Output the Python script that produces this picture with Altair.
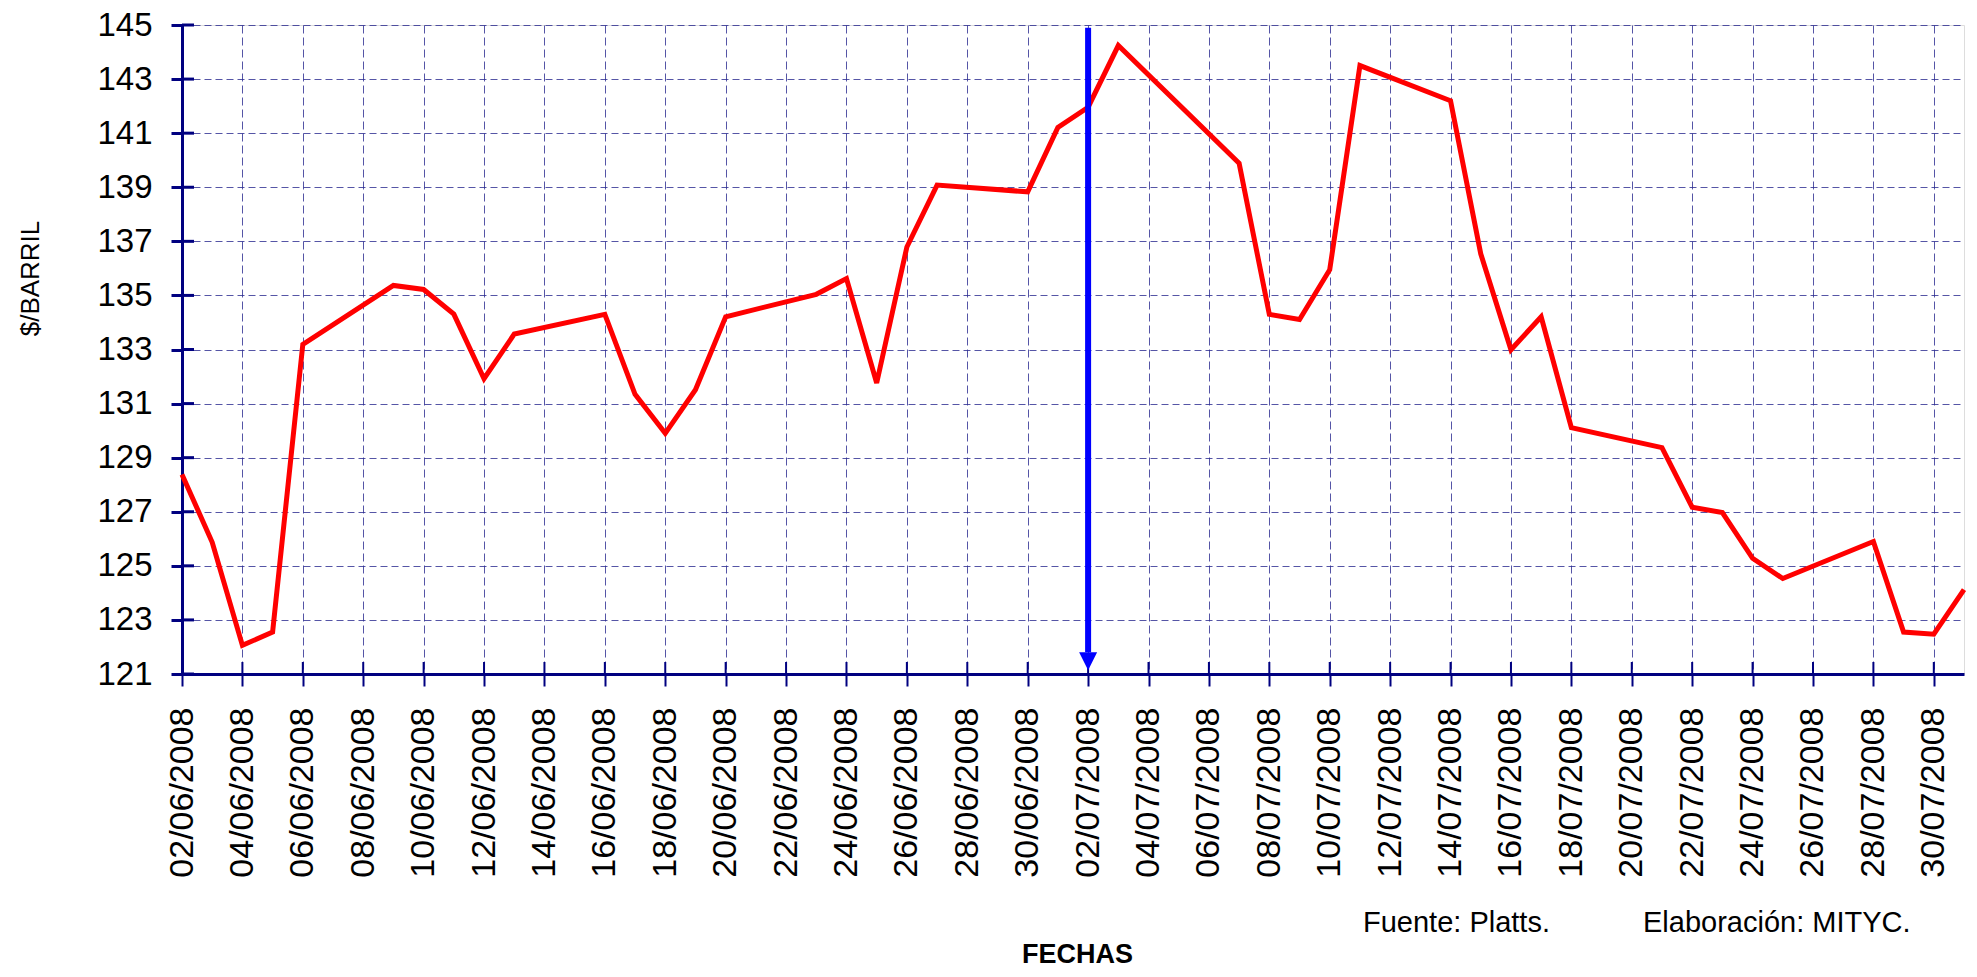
import altair as alt
import pandas as pd

# ---- data ----
dates = [
    "2008-06-02", "2008-06-03", "2008-06-04", "2008-06-05", "2008-06-06",
    "2008-06-09", "2008-06-10", "2008-06-11", "2008-06-12", "2008-06-13",
    "2008-06-16", "2008-06-17", "2008-06-18", "2008-06-19", "2008-06-20",
    "2008-06-23", "2008-06-24", "2008-06-25", "2008-06-26", "2008-06-27",
    "2008-06-30", "2008-07-01", "2008-07-02", "2008-07-03",
    "2008-07-07", "2008-07-08", "2008-07-09", "2008-07-10", "2008-07-11",
    "2008-07-14", "2008-07-15", "2008-07-16", "2008-07-17", "2008-07-18",
    "2008-07-21", "2008-07-22", "2008-07-23", "2008-07-24", "2008-07-25",
    "2008-07-28", "2008-07-29", "2008-07-30", "2008-07-31",
]
prices = [
    128.38, 125.87, 122.06, 122.55, 133.19,
    135.37, 135.22, 134.31, 131.92, 133.57,
    134.30, 131.34, 129.90, 131.51, 134.21,
    135.04, 135.62, 131.76, 136.79, 139.08,
    138.83, 141.21, 141.96, 144.24,
    139.89, 134.30, 134.11, 135.95, 143.50,
    142.20, 136.54, 132.99, 134.21, 130.11,
    129.37, 127.17, 126.97, 125.28, 124.53,
    125.90, 122.55, 122.47, 124.12,
]
y_ticks = list(range(121, 146, 2))
x_tick_dates = [d.strftime("%Y-%m-%d") for d in pd.date_range("2008-06-02", "2008-07-30", freq="2D")]
arrow_date = "2008-07-02"
arrow_top, arrow_bottom, arrow_head = 144.9, 121.8, 121.47

W, H = 1782, 649
NAVY = "#000080"
GRID = "#2a2a90"
FONT = "Liberation Sans"

df = pd.DataFrame({"fecha": [d + "T00:00:00" for d in dates], "precio": prices})
xt = pd.DataFrame({"fecha": [d + "T00:00:00" for d in x_tick_dates]})
yt = pd.DataFrame({"v": y_ticks})
arr = pd.DataFrame({"fecha": [arrow_date + "T00:00:00"], "top": [arrow_top],
                    "bot": [arrow_bottom], "head": [arrow_head]})

x_scale = alt.Scale(domain=[alt.DateTime(year=2008, month=6, date=2),
                            alt.DateTime(year=2008, month=7, date=31)])
y_scale = alt.Scale(domain=[121, 145], nice=False, zero=False)

x_axis = alt.Axis(
    values=[alt.DateTime(year=int(d[:4]), month=int(d[5:7]), date=int(d[8:10])) for d in x_tick_dates],
    format="%d/%m/%Y", labelAngle=270, labelFontSize=34, labelFont=FONT, labelColor="black",
    labelPadding=21, labelOverlap=False, labelFlush=False,
    tickSize=12, tickWidth=2, tickColor=NAVY,
    domainColor=NAVY, domainWidth=3,
    grid=True, gridColor=GRID, gridOpacity=0.8, gridWidth=1, gridDash=[8, 4],
    title="FECHAS", titleFont=FONT, titleFontSize=27, titleFontWeight="bold",
    titleColor="black", titleX=895, titleY=280, titleBaseline="middle",
)
y_axis = alt.Axis(
    values=y_ticks, labelFontSize=33, labelFont=FONT, labelColor="black", labelPadding=19,
    tickSize=11, tickWidth=3, tickColor=NAVY,
    domainColor=NAVY, domainWidth=3,
    grid=True, gridColor=GRID, gridOpacity=0.8, gridWidth=1, gridDash=[7, 4],
    title="$/BARRIL", titleFont=FONT, titleFontSize=26, titleFontWeight="normal",
    titleColor="black", titleX=-152, titleY=253, titleBaseline="middle", titleAlign="center",
)

line = alt.Chart(df).mark_line(color="#FF0000", strokeWidth=5).encode(
    x=alt.X("fecha:T", scale=x_scale, axis=x_axis),
    y=alt.Y("precio:Q", scale=y_scale, axis=y_axis),
)

# inner halves of the crossing tick marks
y_inner = alt.Chart(yt).mark_rule(color=NAVY, strokeWidth=3).encode(
    y=alt.Y("v:Q", scale=y_scale), x=alt.value(0), x2=alt.value(12))
x_inner = alt.Chart(xt).mark_rule(color=NAVY, strokeWidth=2).encode(
    x=alt.X("fecha:T", scale=x_scale), y=alt.value(H - 12), y2=alt.value(H))

arrow_shaft = alt.Chart(arr).mark_rule(color="#0000FF", strokeWidth=6).encode(
    x=alt.X("fecha:T", scale=x_scale), y=alt.Y("top:Q", scale=y_scale), y2="bot:Q")
arrow_tip = alt.Chart(arr).mark_point(
    shape="M-1,-1L1,-1L0,1Z", filled=True, color="#0000FF", opacity=1, size=324
).encode(x=alt.X("fecha:T", scale=x_scale), y=alt.Y("head:Q", scale=y_scale))

note1 = alt.Chart(arr).mark_text(text="Fuente: Platts.", font=FONT, fontSize=29, align="left",
                                 baseline="middle", color="black").encode(
    x=alt.value(1181), y=alt.value(898))
note2 = alt.Chart(arr).mark_text(text="Elaboración: MITYC.", font=FONT, fontSize=29, align="left",
                                 baseline="middle", color="black").encode(
    x=alt.value(1461), y=alt.value(898))

chart = alt.layer(x_inner, y_inner, line, arrow_shaft, arrow_tip, note1, note2).properties(
    width=W, height=H,
    autosize=alt.AutoSizeParams(type="none"),
    padding={"left": 174, "top": 17, "right": 5, "bottom": 300},
).configure_view(stroke=NAVY, strokeWidth=2.5).configure(background="white")

chart.save("out.html", embed_options={"renderer": "svg", "actions": False})
